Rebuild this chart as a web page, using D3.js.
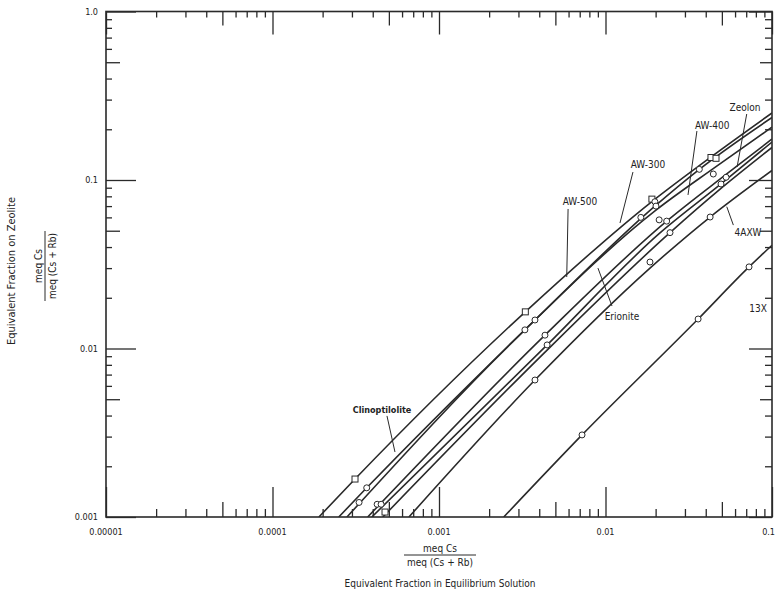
<!DOCTYPE html>
<html>
<head>
<meta charset="utf-8">
<script src="https://cdn.jsdelivr.net/npm/d3@7"></script>
<style>
  body { margin: 0; background: #fff; }
  text { font-family: "DejaVu Sans Condensed", "Liberation Sans Narrow", sans-serif; fill: #222; }
</style>
</head>
<body>
<script>
// axis ticks
const xTickVals = [0.00001, 0.0001, 0.001, 0.01, 0.1];
const xTickLabels = ["0.00001", "0.0001", "0.001", "0.01", "0.1"];
const yTickVals = [0.001, 0.01, 0.1, 1.0];
const yTickLabels = ["0.001", "0.01", "0.1", "1.0"];

// curves: [x, y]
const lineA = [[0.00019, 0.001], [0.000313, 0.00168], [0.0033, 0.0165], [0.019, 0.0745], [0.043, 0.137], [0.1, 0.25]];
const lineB = [[0.00025, 0.001], [0.000368, 0.00149], [0.00377, 0.01476], [0.0198, 0.070], [0.0366, 0.1157], [0.1, 0.235]];
const lineC = [[0.00028, 0.001], [0.00328, 0.0129], [0.02, 0.066], [0.045, 0.118], [0.1, 0.206]];
const lineD = [[0.000373, 0.001], [0.00433, 0.012], [0.0233, 0.057], [0.053, 0.108], [0.1, 0.175]];
const lineE = [[0.000395, 0.001], [0.00446, 0.0105], [0.021, 0.048], [0.0494, 0.0947], [0.1, 0.168]];
const lineF = [[0.00046, 0.001], [0.004, 0.0088], [0.0244, 0.0487], [0.05, 0.09], [0.1, 0.156]];
const lineG = [[0.00066, 0.001], [0.00377, 0.0065], [0.0185, 0.030], [0.0425, 0.0603], [0.1, 0.114]];
const line13X = [[0.00245, 0.001], [0.00723, 0.00307], [0.036, 0.01496], [0.0728, 0.0305], [0.1, 0.041]];

const curves = [lineA, lineB, lineC, lineD, lineE, lineF, lineG, line13X];

// markers
const squarePts = [[0.000313, 0.00168], [0.0033, 0.0165], [0.019, 0.077], [0.043, 0.136], [0.0461, 0.1345], [0.000474, 0.00107]];
const circlePts = [
  [0.000368, 0.00149], [0.0366, 0.1157], [0.0444, 0.1085], [0.053, 0.1038], [0.0494, 0.0947],
  [0.0198, 0.0743], [0.0201, 0.070], [0.0163, 0.060], [0.021, 0.058], [0.0233, 0.057],
  [0.0244, 0.0487], [0.0425, 0.0603], [0.0185, 0.0326], [0.00377, 0.01476], [0.00328, 0.0129],
  [0.00433, 0.012], [0.00446, 0.0105], [0.00377, 0.0065], [0.00723, 0.00307], [0.036, 0.01496],
  [0.0728, 0.0305], [0.000331, 0.00122], [0.000425, 0.00119], [0.000449, 0.00119]
];

// labels: text position, leader start, leader end
const labelNames = ["Clinoptilolite", "AW-500", "AW-300", "AW-400", "Zeolon", "4AXW", "Erionite", "13X"];
const labelPos = [[0.000455, 0.00432], [0.00703, 0.0741], [0.018, 0.1228], [0.0437, 0.212], [0.0689, 0.271], [0.0718, 0.0491], [0.01256, 0.01538], [0.0824, 0.01716]];
const leaderFrom = [[0.000487, 0.00398], [0.00596, 0.0673], [0.01462, 0.1115], [0.0354, 0.1953], [0.0705, 0.2464], [0.0586, 0.054], [0.01094, 0.01787], null];
const leaderTo = [[0.000544, 0.00243], [0.00585, 0.02656], [0.01222, 0.0556], [0.0313, 0.0815], [0.0617, 0.1194], [0.0535, 0.0694], [0.00901, 0.030], null];

const width = 775, height = 595;
const svg = d3.select("body").append("svg")
    .attr("width", width)
    .attr("height", height);

const x = d3.scaleLog().domain([0.00001, 0.1]).range([106, 772]);
const y = d3.scaleLog().domain([0.001, 1]).range([517, 11.5]);

function minorVals(lo, hi, pick) {
    let out = [];
    for (let d = lo; d < hi * 0.999; d *= 10) {
        pick.forEach(m => out.push(d * m));
    }
    return out;
}

const xMinor = minorVals(0.00001, 0.1, [2, 3, 4, 6, 7, 8, 9]);
const xMid = minorVals(0.00001, 0.1, [5]);
const yMinor = minorVals(0.001, 1, [2, 3, 4, 6, 7, 8, 9]);
const yMid = minorVals(0.001, 1, [5]);

const ink = "#2a2a2a";

function tickAxis(axisFn, scale, vals, size, tx, ty) {
    let g = svg.append("g")
        .attr("transform", `translate(${tx},${ty})`)
        .call(axisFn(scale).tickValues(vals).tickSize(-size).tickFormat(""));
    g.select(".domain").remove();
    g.selectAll("line").attr("stroke", ink).attr("stroke-width", 1.3);
    return g;
}

// bottom and top
tickAxis(d3.axisBottom, x, xMinor, 8, 0, 517);
tickAxis(d3.axisBottom, x, xMid, 15, 0, 517);
tickAxis(d3.axisBottom, x, xTickVals, 30, 0, 517);
tickAxis(d3.axisTop, x, xMinor, 6, 0, 11.5);
tickAxis(d3.axisTop, x, xMid, 14, 0, 11.5);
tickAxis(d3.axisTop, x, xTickVals, 23, 0, 11.5);
// left and right
tickAxis(d3.axisLeft, y, yMinor, 6, 106, 0);
tickAxis(d3.axisLeft, y, yMid, 14, 106, 0);
tickAxis(d3.axisLeft, y, yTickVals, 30, 106, 0);
tickAxis(d3.axisRight, y, yMinor, 7, 772, 0);
tickAxis(d3.axisRight, y, yMid, 12, 772, 0);
tickAxis(d3.axisRight, y, yTickVals, 23, 772, 0);

// frame
svg.append("rect")
    .attr("x", 106).attr("y", 11.5)
    .attr("width", 666).attr("height", 505.5)
    .attr("fill", "none")
    .attr("stroke", ink)
    .attr("stroke-width", 1.6);

// tick labels
svg.selectAll(".xl").data(xTickVals).enter().append("text")
    .attr("x", (d, i) => i === xTickVals.length - 1 ? 775 : x(d))
    .attr("y", 535)
    .attr("text-anchor", (d, i) => i === xTickVals.length - 1 ? "end" : "middle")
    .attr("font-size", 9)
    .text((d, i) => xTickLabels[i]);

svg.selectAll(".yl").data(yTickVals).enter().append("text")
    .attr("x", 98).attr("y", d => y(d) + 3)
    .attr("text-anchor", "end")
    .attr("font-size", 9)
    .text((d, i) => yTickLabels[i]);

// curves
const clipId = "plotclip";
svg.append("clipPath").attr("id", clipId)
    .append("rect").attr("x", 106).attr("y", 11.5).attr("width", 666).attr("height", 505.5);

const line = d3.line()
    .x(d => x(d[0]))
    .y(d => y(d[1]))
    .curve(d3.curveMonotoneX);

svg.append("g").attr("clip-path", `url(#${clipId})`)
    .selectAll("path").data(curves).enter().append("path")
    .attr("d", line)
    .attr("fill", "none")
    .attr("stroke", ink)
    .attr("stroke-width", 1.6);

// markers
svg.selectAll(".sq").data(squarePts).enter().append("rect")
    .attr("x", d => x(d[0]) - 3).attr("y", d => y(d[1]) - 3)
    .attr("width", 6).attr("height", 6)
    .attr("fill", "#fff").attr("stroke", ink).attr("stroke-width", 1);

svg.selectAll(".ci").data(circlePts).enter().append("circle")
    .attr("cx", d => x(d[0])).attr("cy", d => y(d[1]))
    .attr("r", 3)
    .attr("fill", "#fff").attr("stroke", ink).attr("stroke-width", 1);

// labels and leaders
labelNames.forEach((name, i) => {
    if (leaderFrom[i]) {
        svg.append("line")
            .attr("x1", x(leaderFrom[i][0])).attr("y1", y(leaderFrom[i][1]))
            .attr("x2", x(leaderTo[i][0])).attr("y2", y(leaderTo[i][1]))
            .attr("stroke", ink).attr("stroke-width", 1);
    }
    svg.append("text")
        .attr("x", x(labelPos[i][0])).attr("y", y(labelPos[i][1]) + 3.5)
        .attr("text-anchor", "middle")
        .attr("font-size", name === "Clinoptilolite" ? 9 : 10)
        .attr("font-weight", name === "Clinoptilolite" ? "bold" : "normal")
        .text(name);
});

// axis titles
svg.append("text")
    .attr("x", 440).attr("y", 552)
    .attr("text-anchor", "middle").attr("font-size", 10)
    .text("meq Cs");
svg.append("line")
    .attr("x1", 404).attr("x2", 476).attr("y1", 555).attr("y2", 555)
    .attr("stroke", ink).attr("stroke-width", 1);
svg.append("text")
    .attr("x", 440).attr("y", 566)
    .attr("text-anchor", "middle").attr("font-size", 10)
    .text("meq (Cs + Rb)");
svg.append("text")
    .attr("x", 440).attr("y", 587)
    .attr("text-anchor", "middle").attr("font-size", 10)
    .text("Equivalent Fraction in Equilibrium Solution");

const yt = svg.append("g").attr("transform", "translate(15,271) rotate(-90)");
yt.append("text").attr("x", 0).attr("y", 0)
    .attr("text-anchor", "middle").attr("font-size", 11)
    .text("Equivalent Fraction on Zeolite");
const yf = svg.append("g").attr("transform", "translate(45,266) rotate(-90)");
yf.append("text").attr("x", 0).attr("y", -3)
    .attr("text-anchor", "middle").attr("font-size", 10)
    .text("meq Cs");
yf.append("line").attr("x1", -35).attr("x2", 35).attr("y1", 0).attr("y2", 0)
    .attr("stroke", ink).attr("stroke-width", 1);
yf.append("text").attr("x", 0).attr("y", 11)
    .attr("text-anchor", "middle").attr("font-size", 10)
    .text("meq (Cs + Rb)");
</script>
</body>
</html>
